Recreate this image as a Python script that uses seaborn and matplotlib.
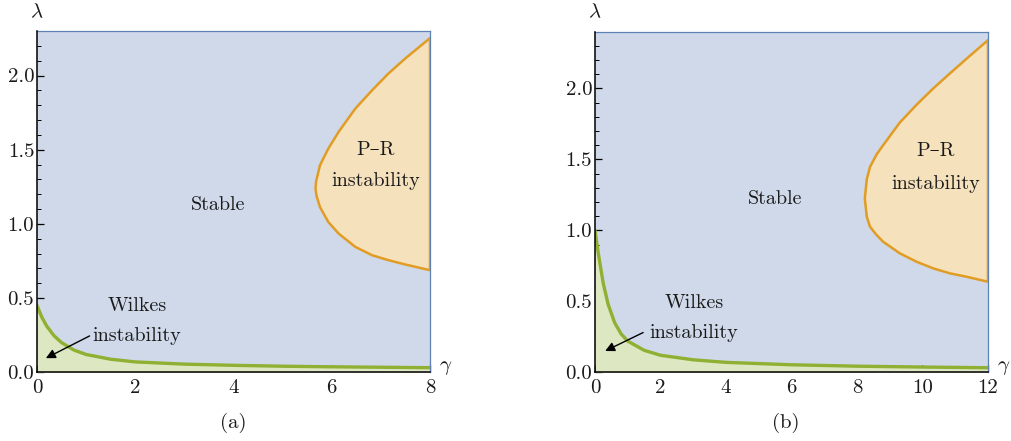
import matplotlib
matplotlib.use("Agg")
import matplotlib.pyplot as plt
import seaborn as sns
import pandas as pd
from matplotlib.ticker import MultipleLocator

sns.set_style("ticks")
plt.rcParams['font.family'] = ['cmr10', 'DejaVu Serif']
plt.rcParams['mathtext.fontset'] = 'cm'
plt.rcParams['axes.formatter.use_mathtext'] = True
plt.rcParams['text.color'] = '#1a1a1a'

# colours (Mathematica default palette, light fills)
c_blue, c_orange, c_green = '#5e81b5', '#e19c24', '#8fb032'
f_blue, f_orange, f_green = '#cfd9e9', '#f6e1bd', '#dde7c2'

# ---- panel (a) data ----
wilkes_g_a = [0, 0.1, 0.2, 0.35, 0.5, 0.75, 1, 1.5, 2, 3, 4, 5, 6, 7, 8]
wilkes_l_a = [0.45, 0.37, 0.31, 0.245, 0.2, 0.15, 0.12, 0.088, 0.07, 0.055,
              0.047, 0.041, 0.037, 0.034, 0.031]
pr_g_a = [8.0, 7.49, 7.15, 6.82, 6.48, 6.14, 5.93, 5.76, 5.68, 5.67, 5.69,
          5.76, 5.93, 6.14, 6.48, 6.82, 7.15, 7.49, 8.0]
pr_l_a = [2.252, 2.113, 2.012, 1.90, 1.777, 1.62, 1.507, 1.395, 1.283, 1.238,
          1.19, 1.114, 1.013, 0.935, 0.845, 0.789, 0.756, 0.727, 0.688]

# ---- panel (b) data ----
wilkes_g_b = [0, 0.1, 0.25, 0.4, 0.6, 0.8, 1.0, 1.5, 2, 3, 4, 6, 8, 10, 12]
wilkes_l_b = [1.0, 0.84, 0.63, 0.48, 0.35, 0.27, 0.22, 0.155, 0.12, 0.088,
              0.07, 0.053, 0.043, 0.037, 0.032]
pr_g_b = [12.0, 11.35, 10.84, 10.33, 9.82, 9.31, 8.80, 8.60, 8.40, 8.30, 8.24,
          8.30, 8.40, 8.60, 8.80, 9.31, 9.82, 10.33, 10.84, 11.35, 12.0]
pr_l_b = [2.34, 2.21, 2.106, 2.0, 1.885, 1.76, 1.60, 1.535, 1.448, 1.36, 1.225,
          1.096, 1.025, 0.967, 0.92, 0.838, 0.779, 0.732, 0.697, 0.673, 0.638]

panels = [
    dict(rect=[0.0366, 0.1558, 0.3887, 0.7739], xmax=8, ymax=2.3,
         wg=wilkes_g_a, wl=wilkes_l_a, pg=pr_g_a, pl=pr_l_a,
         stable=(3.69, 1.13), pr_txt=(6.9, 1.50, 1.29),
         wil_txt=(2.04, 0.445, 0.245), arrow=((1.07, 0.245), (0.18, 0.095)),
         tag='(a)', tagx=0.2305),
    dict(rect=[0.5885, 0.1558, 0.3887, 0.7724], xmax=12, ymax=2.4,
         wg=wilkes_g_b, wl=wilkes_l_b, pg=pr_g_b, pl=pr_l_b,
         stable=(5.5, 1.22), pr_txt=(10.41, 1.56, 1.33),
         wil_txt=(3.02, 0.49, 0.28), arrow=((1.47, 0.28), (0.31, 0.15)),
         tag='(b)', tagx=0.7775),
]

fig = plt.figure(figsize=(10.11, 4.41), dpi=100)

for p in panels:
    ax = fig.add_axes(p['rect'])
    ax.set_xlim(0, p['xmax'])
    ax.set_ylim(0, p['ymax'])
    ax.set_facecolor(f_blue)

    # Wilkes region
    ax.fill_between(p['wg'], 0, p['wl'], color=f_green, lw=0, zorder=1)
    wdf = pd.DataFrame({'g': p['wg'], 'l': p['wl']})
    sns.lineplot(data=wdf, x='g', y='l', ax=ax, color=c_green, lw=2.4,
                 sort=False, estimator=None, zorder=3)

    # P-R region
    ax.fill(p['pg'], p['pl'], color=f_orange, lw=0, zorder=1)
    pdf = pd.DataFrame({'g': p['pg'] + [p['pg'][0]], 'l': p['pl'] + [p['pl'][0]]})
    sns.lineplot(data=pdf, x='g', y='l', ax=ax, color=c_orange, lw=1.8,
                 sort=False, estimator=None, zorder=3)

    ax.set_xlabel('')
    ax.set_ylabel('')

    # frame
    for s in ['top', 'right']:
        ax.spines[s].set_color(c_blue)
        ax.spines[s].set_linewidth(0.9)
    for s in ['left', 'bottom']:
        ax.spines[s].set_color('black')
        ax.spines[s].set_linewidth(1.1)
        ax.spines[s].set_zorder(5)

    ax.xaxis.set_major_locator(MultipleLocator(2))
    ax.xaxis.set_minor_locator(MultipleLocator(0.5))
    ax.yaxis.set_major_locator(MultipleLocator(0.5))
    ax.yaxis.set_minor_locator(MultipleLocator(0.1))
    ax.xaxis.set_major_formatter(plt.FormatStrFormatter('%d'))
    ax.yaxis.set_major_formatter(plt.FormatStrFormatter('%.1f'))
    ax.tick_params(which='both', direction='in', top=False, right=False,
                   color='black', labelsize=15, labelcolor='#1a1a1a')
    ax.tick_params(axis='x', which='major', pad=5)
    ax.tick_params(axis='y', which='major', pad=2)
    ax.tick_params(which='major', length=5, width=0.9)
    ax.tick_params(which='minor', length=3, width=0.7)

    # axis symbols
    ax.text(0, 1.03, r'$\lambda$', transform=ax.transAxes, ha='center',
            va='bottom', fontsize=15)
    ax.text(1.022, 0.012, r'$\gamma$', transform=ax.transAxes, ha='left',
            va='center', fontsize=15)

    # region labels
    fs = 14.5
    ax.text(*p['stable'], 'Stable', ha='center', va='center', fontsize=fs, zorder=6)
    gx, y1, y2 = p['pr_txt']
    ax.text(gx, y1, 'P–R', ha='center', va='center', fontsize=fs, zorder=6)
    ax.text(gx, y2, 'instability', ha='center', va='center', fontsize=fs, zorder=6)
    gx, y1, y2 = p['wil_txt']
    ax.text(gx, y1, 'Wilkes', ha='center', va='center', fontsize=fs, zorder=6)
    ax.text(gx, y2, 'instability', ha='center', va='center', fontsize=fs, zorder=6)
    tail, tip = p['arrow']
    ax.annotate('', xy=tip, xytext=tail,
                arrowprops=dict(arrowstyle='-|>', color='black', lw=1.0,
                                mutation_scale=14, shrinkA=0, shrinkB=0),
                zorder=6)

    fig.text(p['tagx'], 0.041, p['tag'], ha='center', va='center', fontsize=15)

fig.savefig('out.png', dpi=100)
